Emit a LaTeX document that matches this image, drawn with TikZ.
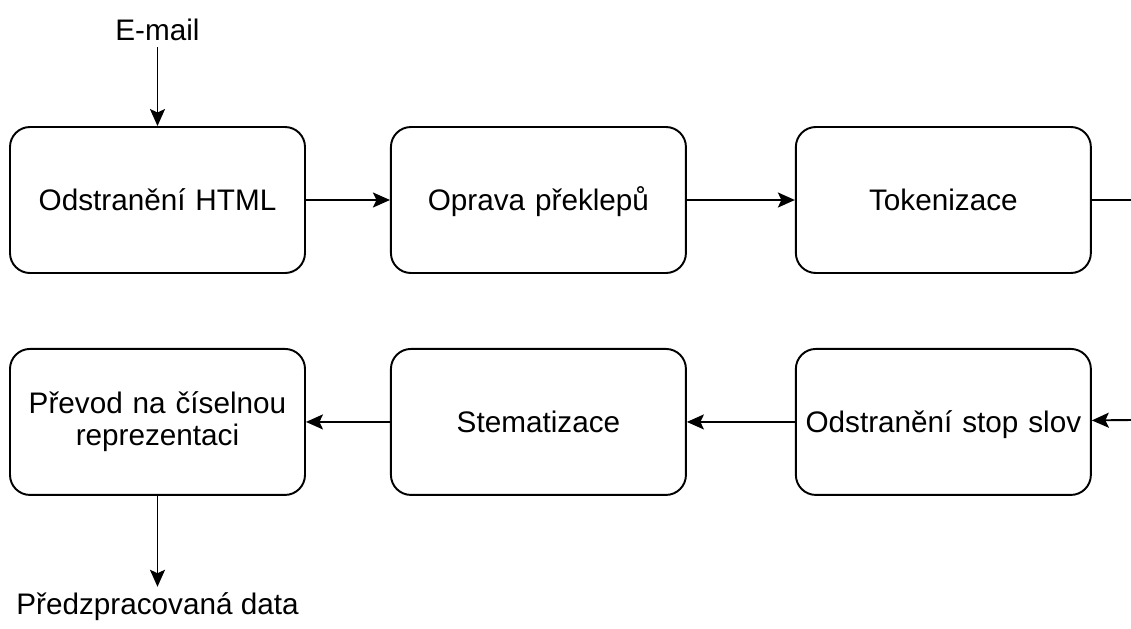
\documentclass[tikz,border=0pt]{standalone}
\usepackage{fontspec}
\setmainfont{Liberation Sans}
\usetikzlibrary{positioning,arrows.meta}
\tikzset{
    stepbox/.style = {rectangle, rounded corners=0.4cm, minimum width=5.9cm, minimum height=2.92cm, text width=5.6cm, align=center, draw=black, line width=1.1pt, font=\fontsize{16.9}{18.1}\selectfont, text height=15pt, text depth=3pt},
    endtext/.style = {font=\fontsize{16.9}{18.1}\selectfont},
    arrow/.style = {line width=1.1pt,-{Stealth[length=0.34cm,width=0.3cm,inset=0.07cm]}}
}
\begin{document}
\begin{tikzpicture}[node distance=1.68cm]
\useasboundingbox (0,0) rectangle (22.62,-12.58);
\node (html) [stepbox] at (3.15,-4) {Odstranění HTML};
\node (oprava) [stepbox, right=of html] {Oprava překlepů};
\node (token) [stepbox, right=2.16cm of oprava] {Tokenizace};
\node (prevod) [stepbox, below=1.48cm of html, text height=, text depth=] {Převod na číselnou reprezentaci};
\node (stem) [stepbox, right=of prevod] {Stematizace};
\node (stop) [stepbox, right=2.16cm of stem] {Odstranění stop slov};
\node (email) [endtext] at (3.15,-0.6) {E-mail};
\node (data) [endtext] at (3.15,-12.14) {Předzpracovaná data};
\coordinate (outR) at (22.62,-4);
\coordinate (inR) at (22.62,-8.4);

\draw [arrow] (email) -- (html);
\draw [arrow] (html) -- (oprava);
\draw [arrow] (oprava) -- (token);
\draw [line width=1.1pt] (token) -- (outR);
\draw [arrow] (inR) -- (stop);
\draw [arrow] (stop) -- (stem);
\draw [arrow] (stem) -- (prevod);
\draw [arrow] (prevod) -- (data);
\end{tikzpicture}
\end{document}
